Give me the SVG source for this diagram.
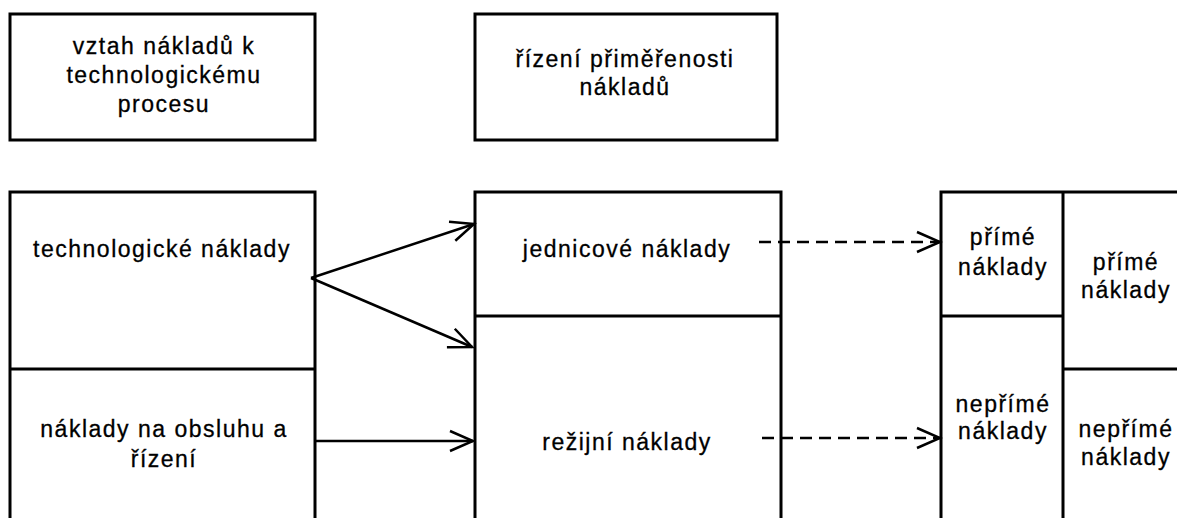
<svg xmlns="http://www.w3.org/2000/svg" width="1177" height="518" viewBox="0 0 1177 518">
  <style>
    .box { fill: #fff; stroke: #000; stroke-width: 3; }
    .div { stroke: #000; stroke-width: 3; fill: none; }
    .lbl { font-family: "Liberation Sans", Arial, sans-serif; font-size: 23px; letter-spacing: 1.5px; fill: #000; stroke: #000; stroke-width: 0.3; text-anchor: middle; }
    .conn { stroke: #000; stroke-width: 2.5; fill: none; marker-end: url(#open); }
    .dash { stroke-dasharray: 12 7; }
  </style>
  <defs>
    <marker id="open" markerUnits="userSpaceOnUse" viewBox="-27 -13 30 26" markerWidth="30" markerHeight="26" refX="0" refY="0" orient="auto">
      <path d="M-23,-10 L0,0 L-23,10" fill="none" stroke="#000" stroke-width="2.5"/>
    </marker>
  </defs>

  <!-- header: relation to the process -->
  <g id="hdr-process">
    <rect class="box" x="10" y="14" width="305" height="126"/>
    <text class="lbl" x="164" y="54">vztah nákladů k</text>
    <text class="lbl" x="164" y="83">technologickému</text>
    <text class="lbl" x="164" y="112">procesu</text>
  </g>

  <!-- header: adequacy control -->
  <g id="hdr-control">
    <rect class="box" x="475" y="14" width="302" height="126"/>
    <text class="lbl" x="625" y="67">řízení přiměřenosti</text>
    <text class="lbl" x="625" y="95">nákladů</text>
  </g>

  <!-- left column -->
  <g id="col-left">
    <rect class="box" x="10" y="192" width="305" height="340"/>
    <line class="div" x1="10" y1="369" x2="315" y2="369"/>
    <text class="lbl" x="162" y="257">technologické náklady</text>
    <text class="lbl" x="164" y="437">náklady na obsluhu a</text>
    <text class="lbl" x="164" y="467">řízení</text>
  </g>

  <!-- middle column -->
  <g id="col-mid">
    <rect class="box" x="475" y="192" width="306" height="340"/>
    <line class="div" x1="475" y1="316" x2="781" y2="316"/>
    <text class="lbl" x="627" y="257">jednicové náklady</text>
    <text class="lbl" x="627" y="450">režijní náklady</text>
  </g>

  <!-- right column -->
  <g id="col-right">
    <rect class="box" x="941" y="192" width="260" height="340"/>
    <line class="div" x1="1063" y1="192" x2="1063" y2="532"/>
    <line class="div" x1="941" y1="316" x2="1063" y2="316"/>
    <line class="div" x1="1063" y1="369" x2="1201" y2="369"/>
    <text class="lbl" x="1003" y="245">přímé</text>
    <text class="lbl" x="1003" y="275">náklady</text>
    <text class="lbl" x="1126" y="270">přímé</text>
    <text class="lbl" x="1126" y="298">náklady</text>
    <text class="lbl" x="1003" y="412">nepřímé</text>
    <text class="lbl" x="1003" y="439">náklady</text>
    <text class="lbl" x="1126" y="437">nepřímé</text>
    <text class="lbl" x="1126" y="465">náklady</text>
  </g>

  <!-- connectors -->
  <g id="connectors">
    <line class="conn" x1="311" y1="278" x2="474" y2="224"/>
    <line class="conn" x1="311" y1="278" x2="472" y2="347"/>
    <line class="conn" x1="316" y1="441" x2="473" y2="441"/>
    <line class="conn dash" x1="759" y1="242" x2="940" y2="242"/>
    <line class="conn dash" x1="762" y1="438" x2="940" y2="438"/>
  </g>
</svg>
